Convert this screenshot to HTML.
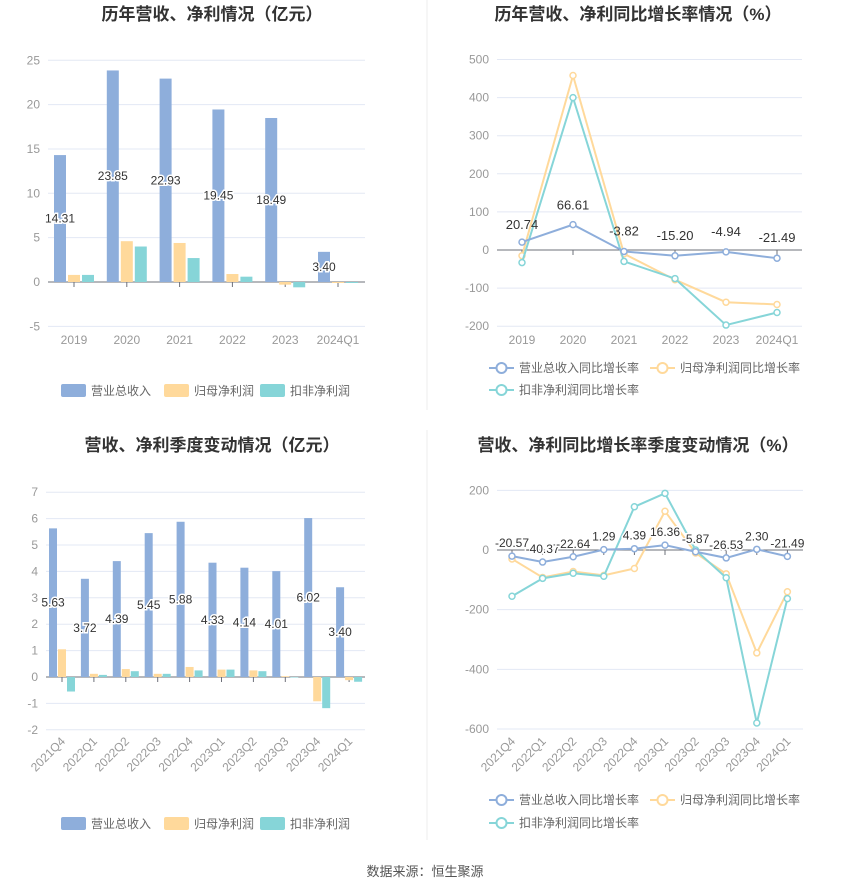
<!DOCTYPE html>
<html><head><meta charset="utf-8"><style>
html,body{margin:0;padding:0;background:#fff;}
svg{display:block;font-family:"Liberation Sans","Noto Sans CJK SC",sans-serif;}
</style></head><body>
<svg id="s" width="850" height="891" xmlns="http://www.w3.org/2000/svg"></svg>
<script>
const S=document.getElementById('s');let h='';
const B='#8eaedb',O='#ffd99b',T='#86d5d8',G='#e3e8f4',AX='#6e7079',L='#999';
function t(x,y,s,o){o=o||{};h+=`<text x="${x}" y="${y}" font-size="${o.fs||12}" fill="${o.c||L}" text-anchor="${o.a||'middle'}" ${o.w?'font-weight="bold"':''} ${o.tr?`transform="${o.tr}"`:''} ${o.st?'stroke="#fff" stroke-width="3" paint-order="stroke"':''}>${s}</text>`;}
function line(x1,y1,x2,y2,c,w){h+=`<line x1="${x1}" y1="${y1}" x2="${x2}" y2="${y2}" stroke="${c}" stroke-width="${w||1}"/>`;}
line(427,0,427,410,'#eee');line(427,430,427,840,'#eee');
t(212,20,'历年营收、净利情况（亿元）',{fs:17,w:1,c:'#333'});
t(638,20,'历年营收、净利同比增长率情况（%）',{fs:17,w:1,c:'#333'});
t(212,451,'营收、净利季度变动情况（亿元）',{fs:17,w:1,c:'#333'});
t(638,451,'营收、净利同比增长率季度变动情况（%）',{fs:17,w:1,c:'#333'});
function axes(x0,x1,ticks,yf,zero,cats,cx,rot,tickY){
 ticks.forEach(v=>{const y=yf(v);if(v!==zero)line(x0,y,x1,y,G);t(x0-8,y+4,v,{a:'end'});});
 line(x0,yf(zero),x1,yf(zero),AX);
 cats.forEach((c,i)=>{const x=cx(i);line(x,yf(zero),x,yf(zero)+5,AX);
  if(rot)t(x+4,tickY,c,{a:'end',tr:`rotate(-45 ${x+4} ${tickY})`});else t(x,tickY,c);});
}
{const yf=v=>282-v*8.87,cx=i=>74+i*52.8;
axes(48,365,[25,20,15,10,5,0,-5],yf,0,['2019','2020','2021','2022','2023','2024Q1'],cx,0,344);
const b=[14.31,23.85,22.93,19.45,18.49,3.40],o=[0.8,4.6,4.4,0.9,-0.3,-0.1],tt=[0.8,4.0,2.7,0.6,-0.6,-0.1];
b.forEach((v,i)=>{const x=cx(i);[[v,B,-20],[o[i],O,-6],[tt[i],T,8]].forEach(([val,c,dx])=>{const y1=yf(Math.max(val,0)),y2=yf(Math.min(val,0));h+=`<rect x="${x+dx}" y="${y1}" width="12" height="${Math.max(y2-y1,1)}" fill="${c}"/>`;});});
b.forEach((v,i)=>t(cx(i)-14,yf(v/2)+4,v.toFixed(2),{c:'#333',st:1}));
}
{const yf=v=>677-v*26.4,cx=i=>62+i*31.9;
axes(46,365,[7,6,5,4,3,2,1,0,-1,-2],yf,0,['2021Q4','2022Q1','2022Q2','2022Q3','2022Q4','2023Q1','2023Q2','2023Q3','2023Q4','2024Q1'],cx,1,742);
const b=[5.63,3.72,4.39,5.45,5.88,4.33,4.14,4.01,6.02,3.40],o=[1.05,0.12,0.3,0.12,0.38,0.28,0.25,0.03,-0.92,-0.12],tt=[-0.55,0.08,0.22,0.12,0.25,0.28,0.22,0,-1.18,-0.18];
b.forEach((v,i)=>{const x=cx(i);[[v,B,-13],[o[i],O,-4],[tt[i],T,5]].forEach(([val,c,dx])=>{const y1=yf(Math.max(val,0)),y2=yf(Math.min(val,0));h+=`<rect x="${x+dx}" y="${y1}" width="8" height="${Math.max(y2-y1,0.5)}" fill="${c}"/>`;});});
b.forEach((v,i)=>t(cx(i)-9,yf(v/2)+4,v.toFixed(2),{c:'#333',st:1,fs:12}));
}
function series(d,cx,yf,c){h+=`<polyline fill="none" stroke="${c}" stroke-width="2" points="${d.map((v,i)=>cx(i)+','+yf(v)).join(' ')}"/>`;
 d.forEach((v,i)=>h+=`<circle cx="${cx(i)}" cy="${yf(v)}" r="3" fill="#fff" stroke="${c}" stroke-width="1.5"/>`);}
{const yf=v=>250-v*0.381,cx=i=>522+i*51;
axes(497,802,[500,400,300,200,100,0,-100,-200],yf,0,['2019','2020','2021','2022','2023','2024Q1'],cx,0,344);
const b=[20.74,66.61,-3.82,-15.20,-4.94,-21.49];
series([-15,458,-10,-78,-137,-143],cx,yf,O);series([-33,400,-30,-75,-197,-164],cx,yf,T);series(b,cx,yf,B);
b.forEach((v,i)=>t(cx(i),yf(v)-(i==0?13:i==1?15:10)-(i>=2?6:0),v.toFixed(2),{c:'#333',fs:13}));
}
{const yf=v=>550-v*0.2983,cx=i=>512+i*30.6;
axes(497,803,[200,0,-200,-400,-600],yf,0,['2021Q4','2022Q1','2022Q2','2022Q3','2022Q4','2023Q1','2023Q2','2023Q3','2023Q4','2024Q1'],cx,1,742);
const b=[-20.57,-40.37,-22.64,1.29,4.39,16.36,-5.87,-26.53,2.30,-21.49];
series([-30,-92,-72,-85,-62,130,-10,-80,-345,-140],cx,yf,O);series([-155,-95,-78,-88,145,190,0,-93,-580,-163],cx,yf,T);series(b,cx,yf,B);
b.forEach((v,i)=>t(cx(i),yf(v)-9,v.toFixed(2),{c:'#333',fs:12,st:1}));
}
function sq(x,y,c,s){h+=`<rect x="${x}" y="${y-6}" width="25" height="13" rx="2" fill="${c}"/>`;t(x+30,y+5,s,{a:'start',c:'#666'});}
sq(61,390,B,'营业总收入');sq(164,390,O,'归母净利润');sq(260,390,T,'扣非净利润');
sq(61,823,B,'营业总收入');sq(164,823,O,'归母净利润');sq(260,823,T,'扣非净利润');
function lg(x,y,c,s){line(x,y,x+25,y,c,2);h+=`<circle cx="${x+12.5}" cy="${y}" r="5" fill="#fff" stroke="${c}" stroke-width="2"/>`;t(x+30,y+4,s,{a:'start',c:'#666'});}
lg(489,368,B,'营业总收入同比增长率');lg(650,368,O,'归母净利润同比增长率');lg(489,390,T,'扣非净利润同比增长率');
lg(489,800,B,'营业总收入同比增长率');lg(650,800,O,'归母净利润同比增长率');lg(489,823,T,'扣非净利润同比增长率');
t(425,876,'数据来源：恒生聚源',{c:'#555',fs:13});
S.innerHTML=h;
</script>
</body></html>
